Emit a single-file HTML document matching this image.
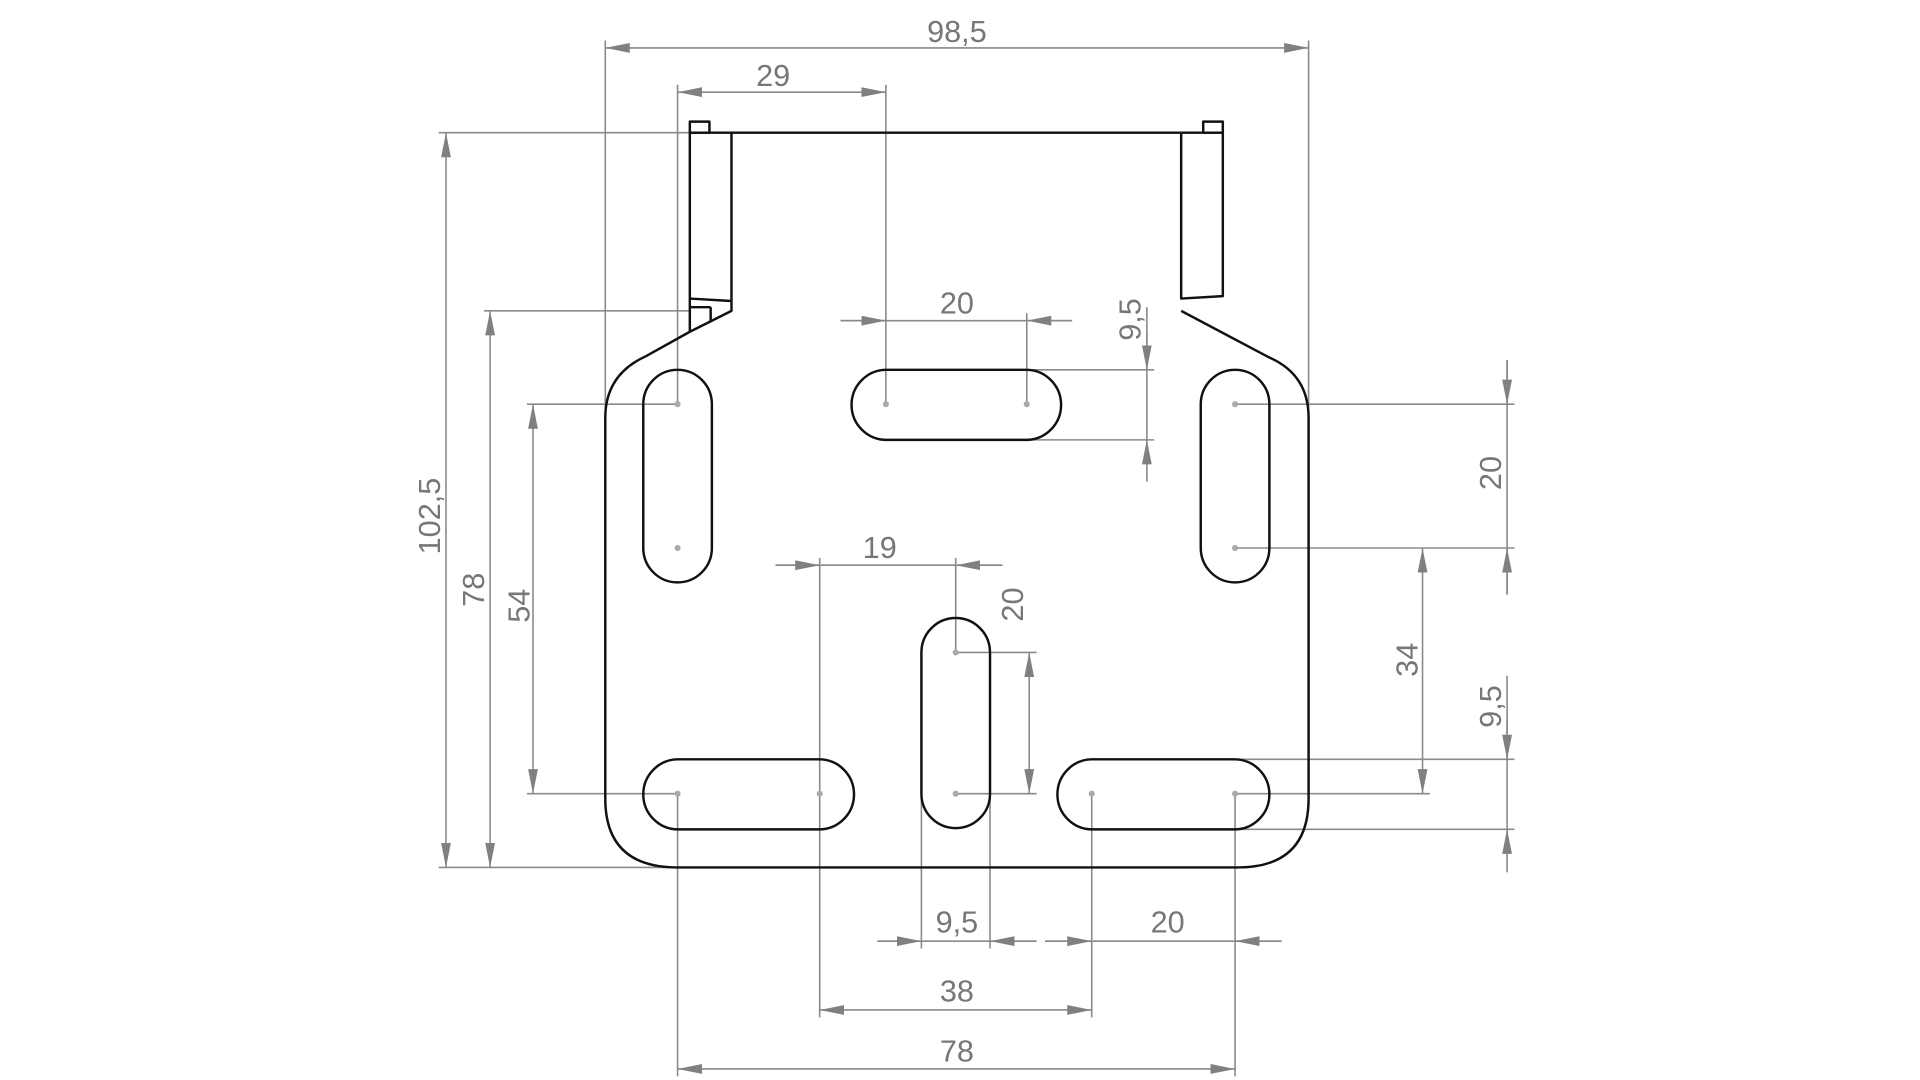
<!DOCTYPE html>
<html><head><style>html,body{margin:0;padding:0;background:#fff;}svg{display:block}</style></head>
<body>
<svg width="1920" height="1080" viewBox="0 0 1567 879" preserveAspectRatio="none" xmlns="http://www.w3.org/2000/svg">
<defs>
<marker id="a" markerUnits="userSpaceOnUse" markerWidth="22" markerHeight="10" refX="20" refY="4" orient="auto-start-reverse"><path d="M0,0 L20,4 L0,8 z" fill="#808080"/></marker>
</defs>
<rect width="1567" height="879" fill="#fff"/>
<g stroke="#8a8a8a" stroke-width="1.3" fill="none">
<!-- extension lines -->
<line x1="494" y1="33" x2="494" y2="335"/>
<line x1="1068" y1="33" x2="1068" y2="335"/>
<line x1="553" y1="69" x2="553" y2="329"/>
<line x1="723" y1="69" x2="723" y2="329"/>
<line x1="358" y1="108" x2="563" y2="108"/>
<line x1="358" y1="706" x2="553" y2="706"/>
<line x1="395" y1="253" x2="563" y2="253"/>
<line x1="430" y1="329" x2="553" y2="329"/>
<line x1="430" y1="646" x2="553" y2="646"/>
<line x1="838" y1="255" x2="838" y2="329"/>
<line x1="838" y1="301" x2="942" y2="301"/>
<line x1="838" y1="358" x2="942" y2="358"/>
<line x1="1008" y1="329" x2="1236" y2="329"/>
<line x1="1008" y1="446" x2="1236" y2="446"/>
<line x1="1008" y1="646" x2="1167" y2="646"/>
<line x1="1008" y1="618" x2="1236" y2="618"/>
<line x1="1008" y1="675" x2="1236" y2="675"/>
<line x1="669" y1="454" x2="669" y2="828"/>
<line x1="780" y1="454" x2="780" y2="531"/>
<line x1="780" y1="531" x2="846" y2="531"/>
<line x1="780" y1="646" x2="846" y2="646"/>
<line x1="752" y1="646" x2="752" y2="772"/>
<line x1="808" y1="646" x2="808" y2="772"/>
<line x1="891" y1="646" x2="891" y2="828"/>
<line x1="1008" y1="646" x2="1008" y2="876"/>
<line x1="553" y1="646" x2="553" y2="876"/>
<!-- dimension lines inside arrows -->
<line x1="494" y1="39" x2="1068" y2="39" marker-start="url(#a)" marker-end="url(#a)"/>
<line x1="553" y1="75" x2="723" y2="75" marker-start="url(#a)" marker-end="url(#a)"/>
<line x1="364" y1="108" x2="364" y2="706" marker-start="url(#a)" marker-end="url(#a)"/>
<line x1="400" y1="253" x2="400" y2="706" marker-start="url(#a)" marker-end="url(#a)"/>
<line x1="435" y1="329" x2="435" y2="646" marker-start="url(#a)" marker-end="url(#a)"/>
<line x1="1161" y1="446" x2="1161" y2="646" marker-start="url(#a)" marker-end="url(#a)"/>
<line x1="840" y1="531" x2="840" y2="646" marker-start="url(#a)" marker-end="url(#a)"/>
<line x1="669" y1="822" x2="891" y2="822" marker-start="url(#a)" marker-end="url(#a)"/>
<line x1="553" y1="870" x2="1008" y2="870" marker-start="url(#a)" marker-end="url(#a)"/>
<!-- outside arrows -->
<line x1="686" y1="261" x2="875" y2="261"/>
<line x1="686" y1="261" x2="723" y2="261" marker-end="url(#a)"/>
<line x1="875" y1="261" x2="838" y2="261" marker-end="url(#a)"/>
<line x1="936" y1="250" x2="936" y2="358"/>
<line x1="936" y1="270" x2="936" y2="301" marker-end="url(#a)"/>
<line x1="936" y1="392" x2="936" y2="358" marker-end="url(#a)"/>
<line x1="1230" y1="293" x2="1230" y2="484"/>
<line x1="1230" y1="293" x2="1230" y2="329" marker-end="url(#a)"/>
<line x1="1230" y1="484" x2="1230" y2="446" marker-end="url(#a)"/>
<line x1="1230" y1="550" x2="1230" y2="675"/>
<line x1="1230" y1="585" x2="1230" y2="618" marker-end="url(#a)"/>
<line x1="1230" y1="710" x2="1230" y2="675" marker-end="url(#a)"/>
<line x1="633" y1="460" x2="818" y2="460"/>
<line x1="633" y1="460" x2="669" y2="460" marker-end="url(#a)"/>
<line x1="818" y1="460" x2="780" y2="460" marker-end="url(#a)"/>
<line x1="716" y1="766" x2="846" y2="766"/>
<line x1="716" y1="766" x2="752" y2="766" marker-end="url(#a)"/>
<line x1="846" y1="766" x2="808" y2="766" marker-end="url(#a)"/>
<line x1="853" y1="766" x2="1046" y2="766"/>
<line x1="853" y1="766" x2="891" y2="766" marker-end="url(#a)"/>
<line x1="1046" y1="766" x2="1008" y2="766" marker-end="url(#a)"/>
</g>
<!-- part outline -->
<g stroke="#111" stroke-width="2" fill="none" stroke-linejoin="round">
<path d="M597,108 L964,108"/>
<rect x="563" y="99" width="16" height="9"/>
<rect x="982" y="99" width="16" height="9"/>
<path d="M563,108 L597,108 L597,253 L563,270 L563,108 Z"/>
<path d="M563,243 L597,245 M563,250 L580,250 M580,250 L580,262"/>
<path d="M964,108 L998,108 L998,241 L964,243 L964,108"/>
<path d="M563,270 L527,290 Q494,305 494,340 L494,650 Q494,706 553,706 L1010,706 Q1068,706 1068,650 L1068,340 Q1068,305 1036,291 L964,253"/>
<rect x="525" y="301" width="56" height="173" rx="28"/>
<rect x="980" y="301" width="56" height="173" rx="28"/>
<rect x="695" y="301" width="171" height="57" rx="28.5"/>
<rect x="752" y="503" width="56" height="171" rx="28"/>
<rect x="525" y="618" width="172" height="57" rx="28.5"/>
<rect x="863" y="618" width="173" height="57" rx="28.5"/>
</g>
<g fill="#aaa">
<circle cx="553" cy="329" r="2.5"/><circle cx="553" cy="446" r="2.5"/>
<circle cx="1008" cy="329" r="2.5"/><circle cx="1008" cy="446" r="2.5"/>
<circle cx="723" cy="329" r="2.5"/><circle cx="838" cy="329" r="2.5"/>
<circle cx="780" cy="531" r="2.5"/><circle cx="780" cy="646" r="2.5"/>
<circle cx="553" cy="646" r="2.5"/><circle cx="669" cy="646" r="2.5"/>
<circle cx="891" cy="646" r="2.5"/><circle cx="1008" cy="646" r="2.5"/>
</g>
<g fill="#777" font-family="Liberation Sans, sans-serif" font-size="25" text-anchor="middle">
<text x="781" y="34">98,5</text>
<text x="631" y="70">29</text>
<text x="781" y="255">20</text>
<text x="718" y="454">19</text>
<text x="781" y="759">9,5</text>
<text x="953" y="759">20</text>
<text x="781" y="815">38</text>
<text x="781" y="864">78</text>
<text transform="translate(359,420) rotate(-90)">102,5</text>
<text transform="translate(395,480) rotate(-90)">78</text>
<text transform="translate(432,493) rotate(-90)">54</text>
<text transform="translate(931,260) rotate(-90)">9,5</text>
<text transform="translate(1225,385) rotate(-90)">20</text>
<text transform="translate(1157,537) rotate(-90)">34</text>
<text transform="translate(1225,575) rotate(-90)">9,5</text>
<text transform="translate(835,492) rotate(-90)">20</text>
</g>
</svg>
</body></html>
